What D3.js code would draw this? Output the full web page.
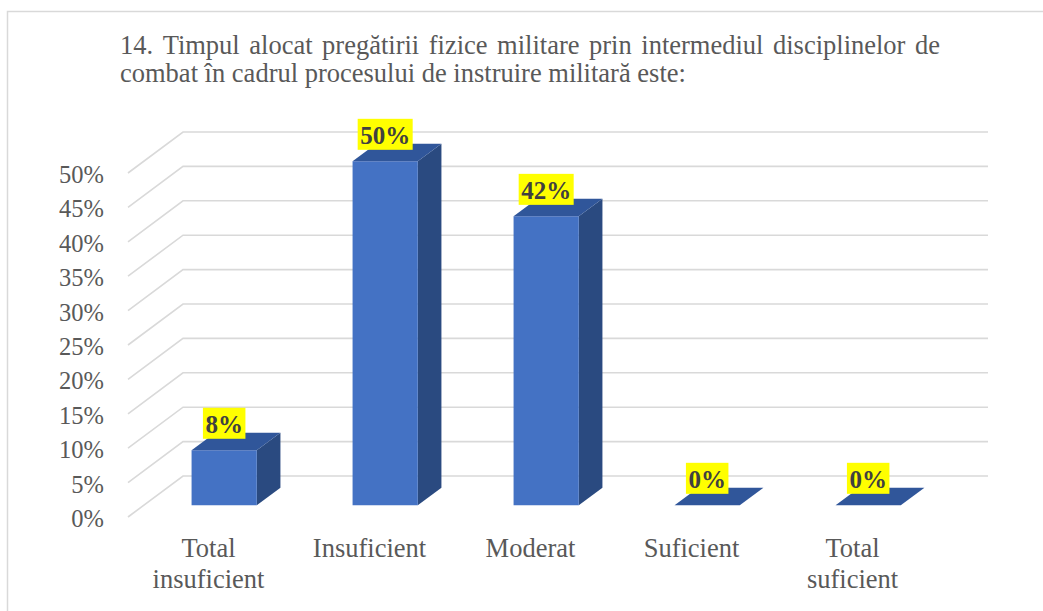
<!DOCTYPE html>
<html>
<head>
<meta charset="utf-8">
<script src="https://cdn.jsdelivr.net/npm/d3@7"></script>
<style>
  html, body { margin: 0; padding: 0; background: #ffffff; }
  svg { display: block; }
  text { font-family: "Liberation Serif", "Times New Roman", serif; }
</style>
</head>
<body>
<svg id="chart" width="1043" height="611"></svg>
<script>
// Survey answers (share of respondents)
const categories = ["Total insuficient", "Insuficient", "Moderat", "Suficient", "Total suficient"];
const categoryLines = [["Total", "insuficient"], ["Insuficient"], ["Moderat"], ["Suficient"], ["Total", "suficient"]];
const values = [0.08, 0.50, 0.42, 0.00, 0.00];
const valueLabels = ["8%", "50%", "42%", "0%", "0%"];
const tickValues = [0, 0.05, 0.10, 0.15, 0.20, 0.25, 0.30, 0.35, 0.40, 0.45, 0.50];
const tickLabels = ["0%", "5%", "10%", "15%", "20%", "25%", "30%", "35%", "40%", "45%", "50%"];
const titleLines = [
  "14. Timpul alocat pregătirii fizice militare prin intermediul disciplinelor de",
  "combat în cadrul procesului de instruire militară este:"
];

const svg = d3.select("#chart");
const textColor = "#595959";

// Outer chart frame
svg.append("rect")
  .attr("x", 7.5).attr("y", 11.5)
  .attr("width", 1060).attr("height", 620)
  .attr("fill", "none").attr("stroke", "#d9d9d9").attr("stroke-width", 1.5);

// Title, first line justified between the margins
const titleLeft = 120, titleRight = 940, titleSize = 26.5;
titleLines.forEach((line, li) => {
  const baseline = 54 + li * 28;
  if (li === 0) {
    const words = line.split(" ");
    const g = svg.append("g");
    const nodes = words.map(w => g.append("text")
      .attr("y", baseline).attr("font-size", titleSize).attr("fill", textColor).text(w));
    const widths = nodes.map(n => n.node().getComputedTextLength());
    const total = d3.sum(widths);
    const gap = (titleRight - titleLeft - total) / (words.length - 1);
    let x = titleLeft;
    nodes.forEach((n, i) => { n.attr("x", x); x += widths[i] + gap; });
  } else {
    svg.append("text").attr("x", titleLeft).attr("y", baseline)
      .attr("font-size", titleSize).attr("fill", textColor).text(line);
  }
});

// 3D plot geometry: front plane, with the walls receding by (depthX, depthY)
const frontLeft = 128, frontRight = 933;
const depthX = 55, depthY = -41;
const y = d3.scaleLinear().domain([0, 0.5]).range([517, 173]);
const x = d3.scaleBand().domain(categories).range([frontLeft, frontRight]).padding(0);

// Gridlines: floor/side diagonal then back wall horizontal
const grid = svg.append("g");
tickValues.forEach(v => {
  const y0 = y(v);
  grid.append("path")
    .attr("d", d3.line()([[frontLeft, y0], [frontLeft + depthX, y0 + depthY], [frontRight + depthX, y0 + depthY]]))
    .attr("fill", "none").attr("stroke", "#d9d9d9").attr("stroke-width", 1.6);
});

// Value axis labels
svg.append("g").selectAll("text").data(tickValues).join("text")
  .attr("x", 104).attr("y", d => y(d) + 10)
  .attr("text-anchor", "end").attr("font-size", 24.5).attr("fill", textColor)
  .text((d, i) => tickLabels[i]);

// Bars sit in the middle of the floor depth
const t0 = 0.285, t1 = 0.715;
const barW = x.bandwidth() * 0.405;
const bdx = (t1 - t0) * depthX, bdy = (t1 - t0) * depthY;
const bars = svg.append("g");
categories.forEach((c, i) => {
  const cx = x(c) + x.bandwidth() / 2 + t0 * depthX;
  const x0 = cx - barW / 2, x1 = cx + barW / 2;
  const yb = y(0) + t0 * depthY;
  const yt = y(values[i]) + t0 * depthY;
  // right side
  bars.append("path")
    .attr("d", `M${x1},${yb}L${x1 + bdx},${yb + bdy}L${x1 + bdx},${yt + bdy}L${x1},${yt}Z`)
    .attr("fill", "#2a4a80");
  // front
  bars.append("path")
    .attr("d", `M${x0},${yb}L${x1},${yb}L${x1},${yt}L${x0},${yt}Z`)
    .attr("fill", "#4472c4");
  // top
  bars.append("path")
    .attr("d", `M${x0},${yt}L${x1},${yt}L${x1 + bdx},${yt + bdy}L${x0 + bdx},${yt + bdy}Z`)
    .attr("fill", "#30569a");
});

// Value labels on yellow
const labels = svg.append("g");
categories.forEach((c, i) => {
  const cx = x(c) + x.bandwidth() / 2 + t0 * depthX;
  const cy = y(values[i]) + t0 * depthY - 27;
  const g = labels.append("g");
  const rect = g.append("rect").attr("fill", "#ffff00");
  const t = g.append("text")
    .attr("x", cx).attr("y", cy + 10)
    .attr("text-anchor", "middle").attr("font-size", 25).attr("font-weight", "bold")
    .attr("fill", "#404040").text(valueLabels[i]);
  const w = t.node().getComputedTextLength() + 5;
  rect.attr("x", cx - w / 2).attr("y", cy - 15.5).attr("width", w).attr("height", 31);
});

// Category labels below the floor
const cats = svg.append("g");
categories.forEach((c, i) => {
  const cx = x(c) + x.bandwidth() / 2;
  const t = cats.append("text").attr("text-anchor", "middle")
    .attr("font-size", 26.5).attr("fill", textColor);
  categoryLines[i].forEach((line, li) => {
    t.append("tspan").attr("x", cx).attr("y", 557 + li * 31).text(line);
  });
});
</script>
</body>
</html>
